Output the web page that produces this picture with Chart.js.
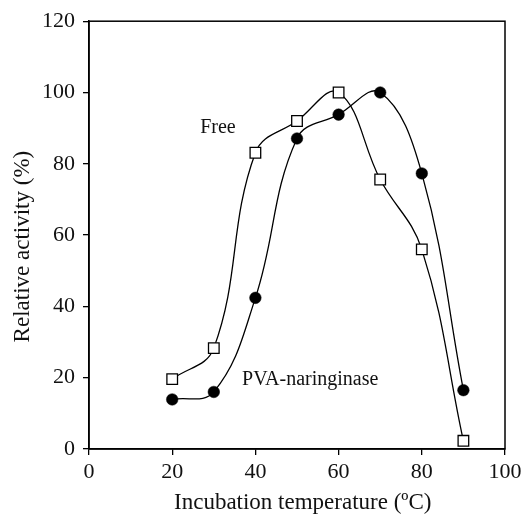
<!DOCTYPE html>
<html><head><meta charset="utf-8">
<script src="https://cdn.jsdelivr.net/npm/chart.js@4"></script>
<style>html,body{margin:0;padding:0;background:#fff}</style>
</head><body>
<canvas id="c" width="531" height="524"></canvas>
<script>
const temperatures = [20, 30, 40, 50, 60, 70, 80, 90];
const freeActivity = [19.6, 28.3, 83.1, 92, 100, 75.6, 56, 2.3];
const pvaActivity = [13.9, 16, 42.4, 87.1, 93.8, 100, 77.3, 16.5];
const xTicks = [0, 20, 40, 60, 80, 100];
const yTicks = [0, 20, 40, 60, 80, 100, 120];
const labels = [{text:'Free', x:31, y:90, align:'center'}, {text:'PVA-naringinase', x:36.8, y:19.5, align:'left'}];

const FONT = "'Liberation Serif', 'Times New Roman', serif";
const toPts = ys => temperatures.map((t,i)=>({x:t, y:ys[i]}));

const framePlugin = {
  id:'frame',
  afterDraw(chart){
    const {ctx, chartArea:a, scales} = chart;
    ctx.save();
    ctx.strokeStyle='#000'; ctx.lineWidth=1.5;
    ctx.strokeRect(a.left, a.top, a.right-a.left, a.bottom-a.top);
    ctx.fillStyle='#111'; ctx.font = "20px " + FONT; ctx.textBaseline='middle';
    labels.forEach(l=>{
      ctx.textAlign=l.align;
      ctx.fillText(l.text, scales.x.getPixelForValue(l.x), scales.y.getPixelForValue(l.y));
    });
    ctx.restore();
  }
};

new Chart(document.getElementById('c'), {
  type:'line',
  data:{datasets:[
    {label:'Free', data:toPts(freeActivity), borderColor:'#000', borderWidth:1.3, tension:0.4,
     pointStyle:'rect', pointRadius:7.5, pointBackgroundColor:'#fff', pointBorderColor:'#000', pointBorderWidth:1.3},
    {label:'PVA-naringinase', data:toPts(pvaActivity), borderColor:'#000', borderWidth:1.3, tension:0.4,
     pointStyle:'circle', pointRadius:5.8, pointBackgroundColor:'#000', pointBorderColor:'#000', pointBorderWidth:0.5}
  ]},
  options:{
    responsive:false, animation:false,
    layout:{padding:{top:16, right:26, left:0, bottom:0}},
    plugins:{legend:{display:false}, tooltip:{enabled:false}},
    scales:{
      x:{type:'linear', min:0, max:100,
         afterBuildTicks(s){ s.ticks = xTicks.map(v=>({value:v})); },
         afterFit(s){ s.height = 75; },
         grid:{display:true, drawOnChartArea:false, drawTicks:true, tickLength:6, color:'#000', lineWidth:1.3},
         border:{display:true, color:'#000', width:1.5},
         ticks:{color:'#111', font:{family:FONT, size:22}, padding:4, maxRotation:0},
         title:{display:true, text:'  Incubation temperature (ºC)', color:'#111', font:{family:FONT, size:23}, padding:{top:0,bottom:7}}
      },
      y:{type:'linear', min:0, max:120,
         afterBuildTicks(s){ s.ticks = yTicks.map(v=>({value:v})); },
         afterFit(s){ s.width = 89; },
         grid:{display:true, drawOnChartArea:false, drawTicks:true, tickLength:6, color:'#000', lineWidth:1.3},
         border:{display:true, color:'#000', width:1.5},
         ticks:{color:'#111', font:{family:FONT, size:22}, padding:8},
         title:{display:true, text:'Relative activity (%)    ', color:'#111', font:{family:FONT, size:23}, padding:{top:9,bottom:0}}
      }
    }
  },
  plugins:[framePlugin]
});
</script>
</body></html>
